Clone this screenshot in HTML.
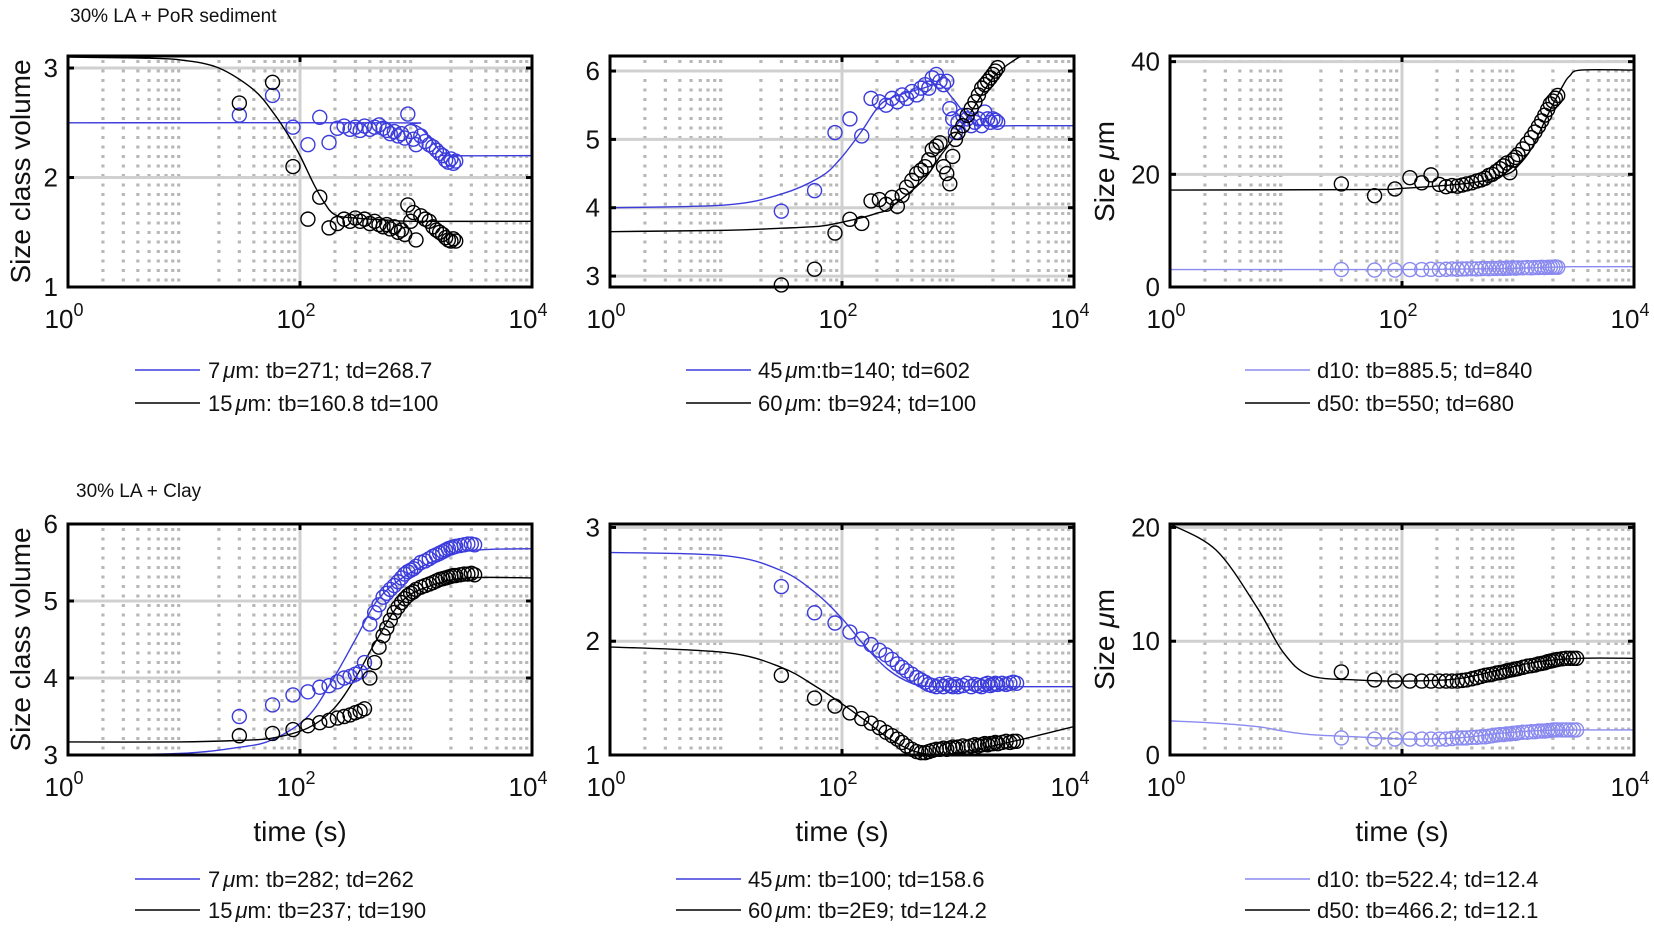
<!DOCTYPE html>
<html><head><meta charset="utf-8"><style>
html,body{margin:0;padding:0;background:#fff;}
svg{display:block;font-family:"Liberation Sans",sans-serif;}
</style></head><body>
<svg id="fig" width="1654" height="929" viewBox="0 0 1654 929" xmlns="http://www.w3.org/2000/svg">
<text x="70" y="22" font-size="19" fill="#111">30% LA + PoR sediment</text>
<text x="76" y="497" font-size="19" fill="#111">30% LA + Clay</text>
</svg>
<script>
// ---- shared time samples ----
const timesTop = [30,58,87,117,148,178,210,240,270,300,330,360,400,440,480,520,560,600,650,700,750,800,850,900,950,1000,1100,1200,1300,1400,1500,1600,1700,1800,1900,2000,2100,2200];
const timesBot = [30,58,87,117,148,178,210,240,270,300,330,360,400,440,480,520,560,600,650,700,750,800,850,900,950,1000,1100,1200,1300,1400,1500,1600,1700,1800,1900,2000,2100,2200,2400,2600,2800,3000,3200];

// ---- panel 1 ----
const p1Black = [2.68,2.87,2.1,1.62,1.82,1.54,1.58,1.62,1.6,1.63,1.6,1.62,1.58,1.6,1.57,1.55,1.57,1.53,1.55,1.5,1.52,1.48,1.75,1.6,1.68,1.43,1.65,1.62,1.6,1.55,1.52,1.5,1.48,1.45,1.43,1.42,1.44,1.42];
const p1Blue = [2.57,2.75,2.46,2.3,2.55,2.32,2.45,2.47,2.44,2.46,2.43,2.47,2.44,2.46,2.48,2.45,2.43,2.4,2.42,2.38,2.4,2.36,2.58,2.42,2.35,2.3,2.38,2.33,2.3,2.28,2.25,2.22,2.2,2.16,2.14,2.17,2.13,2.15];
const p1CurveT = [1,5,10,20,40,60,80,100,130,160,200,300,600,1000,10000];
const p1CurveBlack = [3.1,3.09,3.07,3.0,2.8,2.58,2.38,2.2,1.95,1.78,1.66,1.63,1.61,1.6,1.6];
const p1BlueT = [1,600,900,1100,1300,1500,1700,1900,10000];
const p1CurveBlue = [2.5,2.5,2.49,2.45,2.37,2.28,2.22,2.2,2.2];

// ---- panel 2 ----
const p2Black = [2.87,3.1,3.63,3.83,3.77,4.1,4.12,4.05,4.15,4.02,4.18,4.3,4.4,4.5,4.55,4.6,4.7,4.85,4.9,4.95,4.6,4.5,4.35,4.75,5.0,5.1,5.2,5.35,5.45,5.55,5.65,5.75,5.8,5.85,5.9,5.95,6.0,6.05];
const p2Blue = [3.95,4.25,5.1,5.3,5.05,5.6,5.55,5.5,5.6,5.55,5.65,5.6,5.7,5.65,5.75,5.8,5.75,5.9,5.95,5.85,5.8,5.85,5.45,5.3,5.1,5.25,5.35,5.3,5.2,5.25,5.3,5.2,5.4,5.3,5.25,5.3,5.28,5.25];
const p2CurveT = [1,10,30,65,95,145,200,260,500,700,900,1350,2000,3000,4000,10000];
const p2CurveBlue = [4.0,4.04,4.2,4.45,4.7,5.1,5.45,5.6,5.75,5.8,5.6,5.25,5.2,5.2,5.2,5.2];
const p2CurveBlack = [3.65,3.67,3.7,3.73,3.78,3.85,3.92,4.0,4.4,4.75,5.0,5.45,5.9,6.15,6.22,6.22];

// ---- panel 3 ----
const p3Black = [18.3,16.2,17.4,19.4,18.5,19.9,18.2,17.8,18.0,17.9,18.1,18.3,18.5,18.8,19.0,19.3,19.8,20.0,20.5,21.0,21.5,22.0,20.3,22.5,23.0,23.5,24.5,25.5,26.5,27.5,28.5,29.5,30.5,31.5,32.5,33.0,33.5,34.0];
const p3Blue = [3.1,3.0,3.0,3.1,3.1,3.15,3.1,3.15,3.2,3.15,3.2,3.2,3.25,3.2,3.25,3.3,3.25,3.3,3.3,3.35,3.3,3.35,3.35,3.4,3.35,3.4,3.4,3.45,3.4,3.45,3.45,3.5,3.45,3.5,3.5,3.5,3.55,3.5];
const p3CurveT = [1,50,100,400,800,1000,1300,1800,2400,2800,3500,10000];
const p3CurveBlack = [17.2,17.3,17.5,18.5,20.0,21.5,24.5,30.5,35.5,37.5,38.5,38.5];
const p3CurveBlue = [3.1,3.1,3.1,3.2,3.3,3.35,3.4,3.5,3.55,3.6,3.6,3.6];

// ---- panel 4 ----
const p4Blue = [3.5,3.65,3.78,3.82,3.88,3.9,3.95,4.0,4.02,4.05,4.08,4.2,4.7,4.85,4.95,5.05,5.1,5.15,5.2,5.25,5.3,5.35,5.38,5.4,5.42,5.45,5.5,5.52,5.55,5.58,5.6,5.62,5.64,5.66,5.68,5.69,5.7,5.71,5.72,5.73,5.74,5.74,5.73];
const p4Black = [3.25,3.28,3.33,3.38,3.42,3.45,3.48,3.5,3.52,3.55,3.57,3.6,4.0,4.2,4.4,4.55,4.65,4.75,4.85,4.92,4.98,5.03,5.07,5.1,5.12,5.15,5.18,5.2,5.22,5.24,5.26,5.28,5.29,5.3,5.31,5.32,5.33,5.33,5.34,5.35,5.35,5.36,5.34];
const p4CurveT = [1,9,30,58,117,195,300,460,760,1350,2750,10000];
const p4CurveBlue = [3.0,3.02,3.1,3.2,3.5,4.0,4.5,5.0,5.3,5.5,5.65,5.68];
const p4CurveBlack = [3.17,3.17,3.19,3.22,3.35,3.6,4.0,4.5,5.0,5.2,5.3,5.3];

// ---- panel 5 ----
const p5Blue = [2.48,2.25,2.16,2.08,2.02,1.97,1.92,1.88,1.84,1.8,1.77,1.74,1.71,1.68,1.66,1.64,1.62,1.61,1.6,1.62,1.6,1.63,1.61,1.6,1.62,1.6,1.61,1.63,1.6,1.62,1.61,1.6,1.62,1.63,1.61,1.62,1.63,1.62,1.63,1.62,1.63,1.64,1.63];
const p5Black = [1.7,1.5,1.43,1.37,1.32,1.28,1.24,1.2,1.17,1.14,1.11,1.08,1.05,1.03,1.02,1.02,1.03,1.04,1.05,1.05,1.06,1.05,1.06,1.07,1.06,1.07,1.08,1.07,1.08,1.09,1.08,1.09,1.1,1.09,1.1,1.1,1.11,1.1,1.11,1.12,1.11,1.12,1.12];
const p5CurveT = [1,10,30,60,100,160,250,400,600,800,1200,2000,4000,10000];
const p5CurveBlue = [2.78,2.75,2.62,2.42,2.2,1.95,1.75,1.63,1.6,1.6,1.6,1.6,1.6,1.6];
const p5CurveBlack = [1.95,1.9,1.77,1.6,1.45,1.3,1.15,1.04,1.0,1.0,1.03,1.08,1.15,1.25];

// ---- panel 6 ----
const p6Black = [7.3,6.6,6.5,6.5,6.5,6.5,6.5,6.5,6.5,6.5,6.55,6.6,6.7,6.8,6.9,7.0,7.05,7.1,7.2,7.25,7.3,7.4,7.45,7.5,7.55,7.6,7.7,7.8,7.85,7.9,8.0,8.05,8.1,8.2,8.25,8.3,8.35,8.4,8.45,8.5,8.5,8.5,8.5];
const p6Blue = [1.5,1.4,1.4,1.4,1.4,1.4,1.4,1.4,1.45,1.5,1.5,1.5,1.55,1.55,1.6,1.6,1.65,1.7,1.75,1.8,1.8,1.85,1.85,1.9,1.9,1.95,2.0,2.0,2.05,2.05,2.1,2.1,2.1,2.15,2.15,2.2,2.2,2.2,2.2,2.2,2.2,2.2,2.2];
const p6CurveT = [1,2.5,5.6,9.5,16,40,110,300,700,1500,3500,10000];
const p6CurveBlack = [20.3,18.0,13.0,9.0,7.0,6.6,6.5,6.7,7.5,8.2,8.5,8.5];
const p6CurveBlue = [3.0,2.8,2.5,2.1,1.8,1.6,1.4,1.5,1.9,2.15,2.2,2.2];

const BLUE = '#3c3cdc', LBLUE = '#8a8af0';
const NS = 'http://www.w3.org/2000/svg';
const svg = document.getElementById('fig');
function mk(tag, attrs, parent) {
  const e = document.createElementNS(NS, tag);
  for (const k in attrs) e.setAttribute(k, attrs[k]);
  (parent || svg).appendChild(e);
  return e;
}

const panels = [
  {id:'p1', L:68, T:56, B:287, ymin:1, ymax:3.11, yt:[1,2,3], ylabel:'Size class volume', xlabel:false,
   series:[{t:timesTop,v:p1Blue,c:BLUE,n:'blue'},{t:timesTop,v:p1Black,c:'#000',n:'black'}],
   curves:[{t:p1BlueT,v:p1CurveBlue,c:BLUE,n:'blue'},{t:p1CurveT,v:p1CurveBlack,c:'#000',n:'black'}],
   leg:{lx:135,tx:208,y1:370,y2:403,a:['7','m: tb=271; td=268.7'],b:['15','m: tb=160.8 td=100']}},
  {id:'p2', L:610, T:56, B:287, ymin:2.84, ymax:6.22, yt:[3,4,5,6], ylabel:null, xlabel:false,
   series:[{t:timesTop,v:p2Blue,c:BLUE,n:'blue'},{t:timesTop,v:p2Black,c:'#000',n:'black'}],
   curves:[{t:p2CurveT,v:p2CurveBlue,c:BLUE,n:'blue'},{t:p2CurveT,v:p2CurveBlack,c:'#000',n:'black'}],
   leg:{lx:686,tx:758,y1:370,y2:403,a:['45','m:tb=140; td=602'],b:['60','m: tb=924; td=100']}},
  {id:'p3', L:1170, T:56, B:287, ymin:0, ymax:41, yt:[0,20,40], ylabel:'Size', xlabel:false,
   series:[{t:timesTop,v:p3Blue,c:LBLUE,n:'d10'},{t:timesTop,v:p3Black,c:'#000',n:'d50'}],
   curves:[{t:p3CurveT,v:p3CurveBlue,c:LBLUE,n:'d10'},{t:p3CurveT,v:p3CurveBlack,c:'#000',n:'d50'}],
   leg:{lx:1245,tx:1317,y1:370,y2:403,a:['d10: tb=885.5; td=840'],b:['d50: tb=550; td=680'],lc:LBLUE}},
  {id:'p4', L:68, T:524, B:755, ymin:3, ymax:6, yt:[3,4,5,6], ylabel:'Size class volume', xlabel:true,
   series:[{t:timesBot,v:p4Blue,c:BLUE,n:'blue'},{t:timesBot,v:p4Black,c:'#000',n:'black'}],
   curves:[{t:p4CurveT,v:p4CurveBlue,c:BLUE,n:'blue'},{t:p4CurveT,v:p4CurveBlack,c:'#000',n:'black'}],
   leg:{lx:135,tx:208,y1:879,y2:910,a:['7','m: tb=282; td=262'],b:['15','m: tb=237; td=190']}},
  {id:'p5', L:610, T:524, B:755, ymin:1, ymax:3.03, yt:[1,2,3], ylabel:null, xlabel:true,
   series:[{t:timesBot,v:p5Blue,c:BLUE,n:'blue'},{t:timesBot,v:p5Black,c:'#000',n:'black'}],
   curves:[{t:p5CurveT,v:p5CurveBlue,c:BLUE,n:'blue'},{t:p5CurveT,v:p5CurveBlack,c:'#000',n:'black'}],
   leg:{lx:676,tx:748,y1:879,y2:910,a:['45','m: tb=100; td=158.6'],b:['60','m: tb=2E9; td=124.2']}},
  {id:'p6', L:1170, T:524, B:755, ymin:0, ymax:20.3, yt:[0,10,20], ylabel:'Size', xlabel:true,
   series:[{t:timesBot,v:p6Blue,c:LBLUE,n:'d10'},{t:timesBot,v:p6Black,c:'#000',n:'d50'}],
   curves:[{t:p6CurveT,v:p6CurveBlue,c:LBLUE,n:'d10'},{t:p6CurveT,v:p6CurveBlack,c:'#000',n:'d50'}],
   leg:{lx:1245,tx:1317,y1:879,y2:910,a:['d10: tb=522.4; td=12.4'],b:['d50: tb=466.2; td=12.1'],lc:LBLUE}}
];

const W = 464;
panels.forEach(p => {
  const R = p.L + W;
  const xs = t => p.L + W * Math.log10(t) / 4;
  const ys = v => p.B - (v - p.ymin) / (p.ymax - p.ymin) * (p.B - p.T);
  const g = mk('g', {});
  
  
  const cp = mk('clipPath', {id: 'clip-' + p.id}, g);
  mk('rect', {x:p.L, y:p.T, width:W, height:p.B - p.T}, cp);
  for (let d = 0; d < 4; d++) for (let m = 2; m <= 9; m++) {
    const x = xs(m * Math.pow(10, d));
    const l = mk('line', {x1:x, x2:x, y1:p.T + 4, y2:p.B, stroke:'#b8b8b8', 'stroke-width':3.2, 'stroke-dasharray':'3,6.5'}, g);
    
    
  }
  [1, 100].forEach(t => {
    const l = mk('line', {x1:xs(t), x2:xs(t), y1:p.T, y2:p.B, stroke:'#d0d0d0', 'stroke-width':3}, g);
    
    
  });
  p.yt.forEach(v => {
    const l = mk('line', {x1:p.L, x2:R, y1:ys(v), y2:ys(v), stroke:'#d0d0d0', 'stroke-width':3}, g);
    
    
  });
  p.curves.forEach(c => {
    const pts = c.t.map((t, i) => [xs(t), ys(c.v[i])]);
    let d = 'M' + pts[0][0] + ',' + pts[0][1];
    for (let i = 0; i < pts.length - 1; i++) {
      const p0 = pts[Math.max(0, i - 1)], p1 = pts[i], p2 = pts[i + 1], p3 = pts[Math.min(pts.length - 1, i + 2)];
      const c1 = [p1[0] + (p2[0] - p0[0]) / 6, p1[1] + (p2[1] - p0[1]) / 6];
      const c2 = [p2[0] - (p3[0] - p1[0]) / 6, p2[1] - (p3[1] - p1[1]) / 6];
      d += ' C' + c1[0] + ',' + c1[1] + ' ' + c2[0] + ',' + c2[1] + ' ' + p2[0] + ',' + p2[1];
    }
    const path = mk('path', {d:d, fill:'none', stroke:c.c, 'stroke-width':1.4, 'clip-path':'url(#clip-' + p.id + ')'}, g);
    
    
  });
  p.series.forEach(s => {
    const sg = mk('g', {}, g);
    
    
    s.t.forEach((t, i) => {
      const c = mk('circle', {cx:xs(t), cy:ys(s.v[i]), r:7, fill:'none', stroke:s.c, 'stroke-width':1.4}, sg);
      
      
    });
  });
  const box = mk('rect', {x:p.L, y:p.T, width:W, height:p.B - p.T, fill:'none', stroke:'#000', 'stroke-width':3}, g);
  
  
  [0, 2, 4].forEach(e => {
    const x = xs(Math.pow(10, e));
    mk('line', {x1:x, x2:x, y1:p.B, y2:p.B - 6, stroke:'#000', 'stroke-width':3}, g);
    mk('line', {x1:x, x2:x, y1:p.T, y2:p.T + 6, stroke:'#000', 'stroke-width':3}, g);
    const tx = mk('text', {x:x - 4, y:p.B + 41, 'font-size':26, 'text-anchor':'middle', fill:'#111'}, g);
    
    
    tx.textContent = '10';
    const sup = mk('tspan', {dy:-12, 'font-size':18}, tx);
    sup.textContent = e;
  });
  p.yt.forEach(v => {
    mk('line', {x1:p.L, x2:p.L + 6, y1:ys(v), y2:ys(v), stroke:'#000', 'stroke-width':3}, g);
    mk('line', {x1:R, x2:R - 6, y1:ys(v), y2:ys(v), stroke:'#000', 'stroke-width':3}, g);
    const ty = mk('text', {x:p.L - 10, y:ys(v) + 9, 'font-size':26, 'text-anchor':'end', fill:'#111'}, g);
    
    
    ty.textContent = v;
  });
  if (p.ylabel) {
    const cy = (p.T + p.B) / 2;
    const lx = p.ylabel === 'Size' ? 1114 : 30;
    const yl = mk('text', {x:lx, y:cy, 'font-size':28, 'text-anchor':'middle', fill:'#111', transform:'rotate(-90 ' + lx + ' ' + cy + ')'}, g);
    
    
    if (p.ylabel === 'Size') {
      yl.textContent = 'Size ';
      const mu = mk('tspan', {'font-style':'italic'}, yl); mu.textContent = 'μ';
      const m2 = mk('tspan', {}, yl); m2.textContent = 'm';
    } else yl.textContent = p.ylabel;
  }
  if (p.xlabel) {
    const xl = mk('text', {x:p.L + W / 2, y:841, 'font-size':28, 'text-anchor':'middle', fill:'#111'}, g);
    
    
    xl.textContent = 'time (s)';
  }
  const lg = mk('g', {}, g);
  
  
  [[p.leg.y1, p.leg.a, p.leg.lc || BLUE], [p.leg.y2, p.leg.b, '#000']].forEach(([y, parts, col]) => {
    const ln = mk('line', {x1:p.leg.lx, x2:p.leg.lx + 65, y1:y, y2:y, stroke:col, 'stroke-width':1.5}, lg);
    
    
    const t = mk('text', {x:p.leg.tx, y:y + 8, 'font-size':22, fill:'#111'}, lg);
    
    
    if (parts.length === 2) {
      const a = mk('tspan', {}, t); a.textContent = parts[0];
      const mu = mk('tspan', {'font-style':'italic', dx:3}, t); mu.textContent = 'μ';
      const b = mk('tspan', {}, t); b.textContent = parts[1];
    } else t.textContent = parts[0];
  });
});
</script>
</body></html>
